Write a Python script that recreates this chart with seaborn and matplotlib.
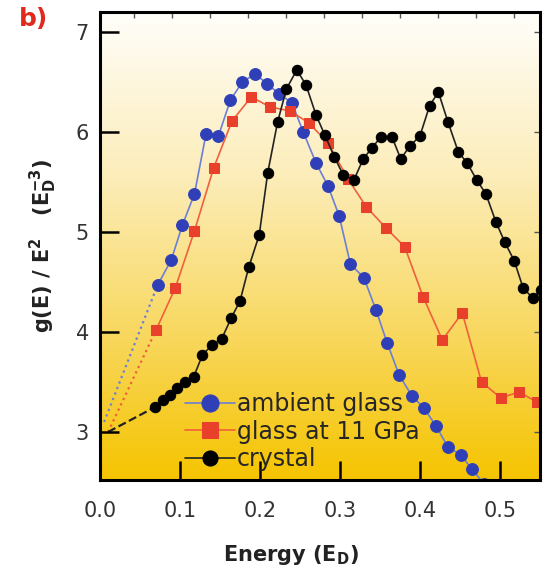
import numpy as np
import matplotlib
matplotlib.use('Agg')
import matplotlib.pyplot as plt
import seaborn as sns
from matplotlib.colors import LinearSegmentedColormap

# ambient glass
E_amb = [0.072, 0.089, 0.103, 0.118, 0.1325, 0.148, 0.163, 0.178, 0.194, 0.209,
         0.224, 0.240, 0.254, 0.270, 0.285, 0.299, 0.313, 0.330, 0.345, 0.359,
         0.374, 0.390, 0.405, 0.420, 0.435, 0.451, 0.465, 0.480]
g_amb = [4.47, 4.72, 5.07, 5.38, 5.98, 5.96, 6.32, 6.50, 6.58, 6.48,
         6.38, 6.29, 6.00, 5.69, 5.46, 5.16, 4.68, 4.54, 4.22, 3.89,
         3.57, 3.36, 3.24, 3.06, 2.85, 2.77, 2.63, 2.48]

# glass at 11 GPa
E_hp = [0.070, 0.094, 0.118, 0.142, 0.165, 0.189, 0.2125, 0.2375, 0.261, 0.285,
        0.310, 0.333, 0.3575, 0.381, 0.404, 0.428, 0.453, 0.477, 0.501, 0.524, 0.546]
g_hp = [4.02, 4.44, 5.01, 5.64, 6.11, 6.35, 6.25, 6.21, 6.09, 5.89,
        5.53, 5.25, 5.04, 4.85, 4.35, 3.92, 4.19, 3.50, 3.34, 3.40, 3.30]

# crystal
E_cr = [0.069, 0.079, 0.0875, 0.096, 0.106, 0.117, 0.128, 0.140, 0.152, 0.164,
        0.175, 0.186, 0.199, 0.2096, 0.222, 0.233, 0.246, 0.2575, 0.270, 0.281,
        0.293, 0.304, 0.3175, 0.329, 0.340, 0.351, 0.365, 0.376, 0.3875, 0.400,
        0.412, 0.423, 0.435, 0.448, 0.459, 0.471, 0.4825, 0.495, 0.506, 0.518,
        0.529, 0.541, 0.552]
g_cr = [3.25, 3.32, 3.37, 3.44, 3.50, 3.55, 3.77, 3.87, 3.93, 4.14,
        4.31, 4.65, 4.97, 5.59, 6.10, 6.43, 6.62, 6.47, 6.17, 5.97,
        5.75, 5.57, 5.52, 5.73, 5.84, 5.95, 5.95, 5.73, 5.86, 5.96,
        6.26, 6.40, 6.10, 5.80, 5.69, 5.52, 5.38, 5.10, 4.90, 4.71,
        4.44, 4.34, 4.42]

# low-energy extrapolation start points (ambient, 11 GPa, crystal)
E_start = [0.005, 0.010, 0.010]
g_start = [3.10, 3.00, 3.00]

labels = ['ambient glass', 'glass at 11 GPa', 'crystal']
x_ticks = [0.0, 0.1, 0.2, 0.3, 0.4, 0.5]
y_ticks = [3, 4, 5, 6, 7]
top_ticks = [0.042 + 0.0475 * k for k in range(11)]

sns.set_style('ticks')
plt.rcParams['font.family'] = ['DejaVu Sans']
plt.rcParams['mathtext.fontset'] = 'dejavusans'

fig = plt.figure(figsize=(5.47, 5.68), dpi=100)
ax = fig.add_axes([0.183, 0.155, 0.804, 0.824])
ax.set_axisbelow(False)

# yellow background gradient
bg = LinearSegmentedColormap.from_list(
    'bg', [(0, '#f5c400'), (0.3, '#f8d75c'), (0.65, '#fcedba'), (1, '#fffefa')])
ax.imshow(np.linspace(0, 1, 256).reshape(-1, 1), aspect='auto', cmap=bg,
          origin='lower', extent=[0, 1, 0, 1], transform=ax.transAxes, zorder=-1)

series = [
    (E_amb, g_amb, '#6b7fd6', '#2f3fb8', 'o', 8.5, ':'),
    (E_hp, g_hp, '#f0603c', '#e8402a', 's', 7.5, ':'),
    (E_cr, g_cr, '#222222', '#000000', 'o', 7.5, '--'),
]
for i, (E, g, lc, mc, mk, ms, ls) in enumerate(series):
    ax.plot([E_start[i], E[0]], [g_start[i], g[0]], ls, color=lc, lw=1.6, zorder=2)
    sns.lineplot(x=E, y=g, ax=ax, color=lc, lw=1.2, marker=mk, markersize=ms,
                 markerfacecolor=mc, markeredgecolor=mc, sort=False,
                 estimator=None, label=labels[i], zorder=3)

ax.set_xlim(0.0, 0.55)
ax.set_ylim(2.52, 7.2)
ax.set_xticks(x_ticks)
ax.set_xticklabels([f'{v:.1f}' for v in x_ticks])
ax.set_xticks(top_ticks, minor=True)
ax.set_yticks(y_ticks)
ax.set_yticks(y_ticks, minor=True)
ax.xaxis.remove_overlapping_locs = False
ax.yaxis.remove_overlapping_locs = False

# long inward ticks bottom/left, short ones top/right
ax.tick_params(axis='x', which='major', direction='in', length=14, width=1.8, pad=15,
               labelsize=15, labelcolor='#333333', color='black',
               bottom=True, top=False)
ax.tick_params(axis='y', which='major', direction='in', length=14, width=1.8, pad=8,
               labelsize=15, labelcolor='#333333', color='black',
               left=True, right=False)
ax.tick_params(axis='x', which='minor', direction='in', length=4, width=1,
               color='#555555', bottom=False, top=True, labelbottom=False)
ax.tick_params(axis='y', which='minor', direction='in', length=4, width=1,
               color='#555555', left=False, right=True, labelleft=False)
for s in ax.spines.values():
    s.set_linewidth(2.2)
    s.set_color('black')
    s.set_zorder(6)

ax.set_xlabel(r'Energy (E$_\mathbf{D}$)', fontsize=15, fontweight='bold', color='#222222')
ax.xaxis.set_label_coords(0.435, -0.135)
ax.set_ylabel(r'g(E) / E$^\mathbf{2}$   (E$_\mathbf{D}^\mathbf{-3}$)', fontsize=15,
              fontweight='bold', color='#222222', labelpad=12)

ax.legend(loc='center left', bbox_to_anchor=(0.193, 0.103), frameon=False,
          fontsize=17, markerscale=1.45, handlelength=2.1, handletextpad=0.1,
          labelspacing=0.15, borderpad=0, borderaxespad=0)

fig.text(0.035, 0.955, 'b)', color='#e02a1e', fontsize=18, fontweight='bold')

fig.canvas.draw()
for axis in (ax.xaxis, ax.yaxis):
    for t in axis.get_major_ticks() + axis.get_minor_ticks():
        t.tick1line.set_clip_on(False)
        t.tick2line.set_clip_on(False)

fig.savefig('out.png', dpi=100)
